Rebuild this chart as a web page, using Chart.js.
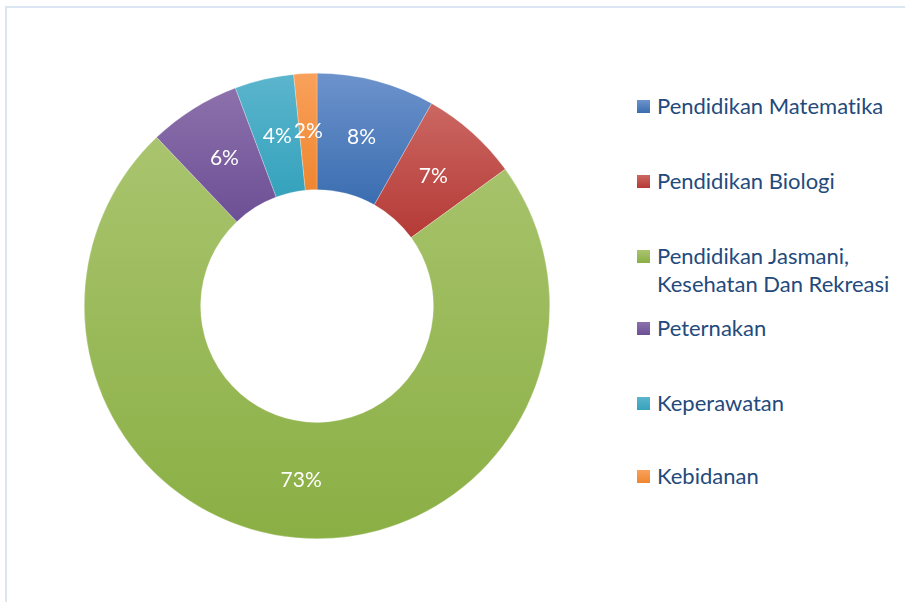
<!DOCTYPE html>
<html>
<head>
<meta charset="utf-8">
<script src="https://cdn.jsdelivr.net/npm/chart.js@4.4.0/dist/chart.umd.min.js"></script>
<style>
    body { margin: 0; background: #fff; width: 905px; height: 602px; overflow: hidden; position: relative; font-family: Lato, "Open Sans", sans-serif; }
    #frame { position: absolute; left: 5px; top: 6px; width: 950px; height: 650px; border-left: 2px solid #dbe5f4; border-top: 2px solid #dbe5f4; }
    #chartBox { position: absolute; left: 84px; top: 73px; width: 466px; height: 466px; }
    .item { position: absolute; left: 637px; font-size: 22px; color: #244a7c; line-height: 28px; font-variant-ligatures: none; }
    .box { position: absolute; left: 0; top: 8px; width: 13px; height: 13px; }
    .txt { position: absolute; left: 20px; top: 0; white-space: nowrap; }
</style>
</head>
<body>
<div id="frame"></div>
<div id="chartBox"><canvas id="myChart"></canvas></div>
<div id="legend"></div>

<script>
const kategori = ['Pendidikan Matematika', 'Pendidikan Biologi', 'Pendidikan Jasmani, Kesehatan Dan Rekreasi', 'Peternakan', 'Keperawatan', 'Kebidanan'];
const legendText = [['Pendidikan Matematika'], ['Pendidikan Biologi'], ['Pendidikan Jasmani,', 'Kesehatan Dan Rekreasi'], ['Peternakan'], ['Keperawatan'], ['Kebidanan']];
const persen = [8.2, 6.8, 72.9, 6.4, 4.1, 1.6];
const warnaAtas = ['#6d93cc', '#cb6762', '#a9c46e', '#8c71ac', '#5bb5cd', '#f9a15b'];
const warnaBawah = ['#3a6db0', '#b53a36', '#8aaf44', '#6d4f95', '#35a2bc', '#ef8630'];
const legendTop = [92, 167, 242, 314, 389, 462];

// legenda
const legend = document.getElementById('legend');
kategori.forEach((k, i) => {
    const div = document.createElement('div');
    div.className = 'item';
    div.style.top = legendTop[i] + 'px';
    div.innerHTML = '<div class="box" style="background:linear-gradient(' + warnaAtas[i] + ',' + warnaBawah[i] + ')"></div>' +
        '<div class="txt">' + legendText[i].join('<br>') + '</div>';
    legend.appendChild(div);
});

const total = persen.reduce((a, b) => a + b, 0);

function gradien(context) {
    const chart = context.chart;
    const area = chart.chartArea;
    const i = context.dataIndex;
    if (!area || i === undefined) return warnaAtas[i || 0];
    const cx = (area.left + area.right) / 2;
    const cy = (area.top + area.bottom) / 2;
    const rOut = Math.min(area.right - area.left, area.bottom - area.top) / 2;
    const rIn = rOut * 0.5;
    let sum = 0;
    for (let j = 0; j < i; j++) sum += persen[j];
    const a0 = -Math.PI / 2 + sum / total * Math.PI * 2;
    const a1 = a0 + persen[i] / total * Math.PI * 2;
    let yMin = Infinity, yMax = -Infinity;
    for (let s = 0; s <= 60; s++) {
        const a = a0 + (a1 - a0) * s / 60;
        [rOut, rIn].forEach(r => {
            const y = cy + r * Math.sin(a);
            yMin = Math.min(yMin, y);
            yMax = Math.max(yMax, y);
        });
    }
    const g = chart.ctx.createLinearGradient(0, yMin, 0, yMax);
    g.addColorStop(0, warnaAtas[i]);
    g.addColorStop(1, warnaBawah[i]);
    return g;
}

const labelPlugin = {
    id: 'labelPersen',
    afterDatasetsDraw(chart) {
        const ctx = chart.ctx;
        const meta = chart.getDatasetMeta(0);
        ctx.save();
        ctx.fillStyle = '#fff';
        ctx.font = '21px Lato, "Open Sans", sans-serif';
        ctx.textAlign = 'center';
        ctx.textBaseline = 'middle';
        meta.data.forEach((arc, i) => {
            const p = arc.tooltipPosition();
            ctx.fillText(Math.round(persen[i] / total * 100) + '%', p.x, p.y);
        });
        ctx.restore();
    }
};

new Chart(document.getElementById('myChart'), {
    type: 'doughnut',
    data: {
        labels: kategori,
        datasets: [{
            data: persen,
            backgroundColor: gradien,
            borderColor: 'rgba(255,255,255,0.5)',
            borderWidth: 0.5
        }]
    },
    options: {
        responsive: true,
        maintainAspectRatio: false,
        animation: false,
        cutout: '50%',
        plugins: {
            legend: { display: false },
            tooltip: { enabled: false }
        }
    },
    plugins: [labelPlugin]
});
</script>
</body>
</html>
